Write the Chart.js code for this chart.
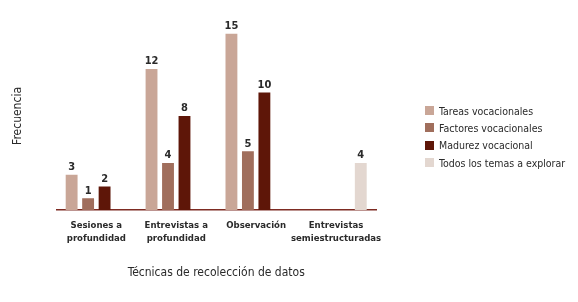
<!DOCTYPE html>
<html>
<head>
<meta charset="utf-8">
<script src="https://cdn.jsdelivr.net/npm/chart.js@4"></script>
<style>
  html, body { margin: 0; padding: 0; background: #fff; }
  #wrap { position: relative; width: 578px; height: 302px; }
  #legend { position: absolute; left: 425px; top: 102px; margin: 0; padding: 0; list-style: none;
            font-family: "DejaVu Sans Condensed", "DejaVu Sans", sans-serif; font-size: 10.5px; color: #2a2a2a; }
  #legend li { display: flex; align-items: center; height: 17.3px; white-space: nowrap; }
  #legend span { display: inline-block; width: 9px; height: 9px; margin-right: 5px; }
</style>
</head>
<body>
<div id="wrap">
  <canvas id="chart" width="578" height="302"></canvas>
  <ul id="legend"></ul>
</div>
<script>
const categories = [
  ["Sesiones a", "profundidad"],
  ["Entrevistas a", "profundidad"],
  "Observación",
  ["Entrevistas", "semiestructuradas"]
];
const seriesNames = ["Tareas vocacionales", "Factores vocacionales", "Madurez vocacional", "Todos los temas a explorar"];
const tareas = [3, 12, 15, null];
const factores = [1, 4, 5, null];
const madurez = [2, 8, 10, null];
const todos = [null, null, null, 4];
const colors = ["#c9a697", "#a06e5c", "#5e1608", "#e3d7d0"];

const font = "'DejaVu Sans Condensed', 'DejaVu Sans', sans-serif";

// value labels over each bar
const valueLabels = {
  id: "valueLabels",
  afterDatasetsDraw(chart) {
    const ctx = chart.ctx;
    ctx.save();
    ctx.font = "bold 11px " + font;
    ctx.fillStyle = "#2a2a2a";
    ctx.textAlign = "center";
    ctx.textBaseline = "bottom";
    chart.data.datasets.forEach((ds, i) => {
      chart.getDatasetMeta(i).data.forEach((bar, j) => {
        if (ds.data[j] == null) return;
        ctx.fillText(ds.data[j], bar.x, bar.y - 2);
      });
    });
    ctx.restore();
  }
};

const htmlLegend = {
  id: "htmlLegend",
  afterUpdate(chart) {
    const ul = document.getElementById("legend");
    ul.innerHTML = "";
    chart.data.datasets.forEach(ds => {
      const li = document.createElement("li");
      const box = document.createElement("span");
      box.style.background = ds.backgroundColor;
      li.appendChild(box);
      li.appendChild(document.createTextNode(ds.label));
      ul.appendChild(li);
    });
  }
};

const ctx = document.getElementById("chart").getContext("2d");
new Chart(ctx, {
  type: "bar",
  data: {
    labels: categories,
    datasets: [tareas, factores, madurez, todos].map((d, i) => ({
      label: seriesNames[i],
      data: d,
      backgroundColor: colors[i],
      categoryPercentage: 0.825,
      barPercentage: 0.72
    }))
  },
  options: {
    responsive: false,
    animation: false,
    layout: { padding: { left: 0, right: 202, top: 22, bottom: 22 } },
    plugins: {
      legend: { display: false },
      tooltip: { enabled: false }
    },
    scales: {
      x: {
        grid: { display: false },
        border: { color: "#7d2b22", width: 1.5 },
        ticks: {
          color: "#2a2a2a",
          padding: 1,
          maxRotation: 0,
          autoSkip: false,
          font: { family: font, size: 9.5, weight: "bold", lineHeight: 1.35 }
        },
        title: {
          display: true,
          text: "Técnicas de recolección de datos",
          color: "#2a2a2a",
          padding: { top: 20, bottom: 0 },
          font: { family: font, size: 12 }
        }
      },
      y: {
        min: 0,
        max: 16,
        grid: { display: false },
        border: { display: false },
        ticks: { display: false },
        title: {
          display: true,
          text: "Frecuencia",
          color: "#2a2a2a",
          padding: { top: 11, bottom: 23 },
          font: { family: font, size: 12 }
        }
      }
    }
  },
  plugins: [valueLabels, htmlLegend]
});
</script>
</body>
</html>
